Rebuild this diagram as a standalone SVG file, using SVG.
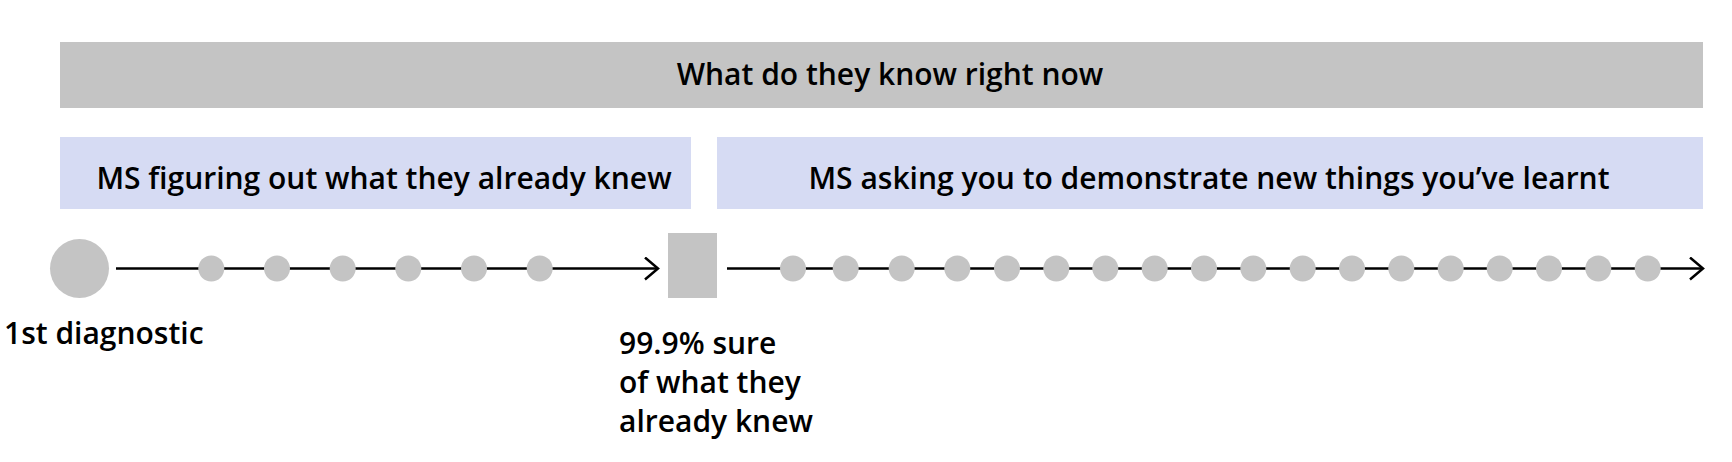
<svg xmlns="http://www.w3.org/2000/svg" width="1732" height="462" viewBox="0 0 1732 462">
<defs>
<style>
.t{font-family:"Open Sans",Lato,"Liberation Sans",sans-serif;font-size:30px;font-weight:600;fill:#000}
.bar{fill:#c4c4c4}
.box{fill:#d6dbf3}
.dot{fill:#c4c4c4}
.ln{stroke:#000;stroke-width:2.5;fill:none}
</style>
<marker id="ah" viewBox="0 0 16 24" refX="14" refY="12" markerWidth="16" markerHeight="24" markerUnits="userSpaceOnUse" orient="auto">
<path d="M1,1 L14,12 L1,23" fill="none" stroke="#000" stroke-width="2.5"/>
</marker>
</defs>
<rect width="1732" height="462" fill="#fff"/>
<g id="header">
<rect class="bar" x="60" y="42" width="1643" height="66"/>
<text class="t" x="890" y="85" text-anchor="middle">What do they know right now</text>
</g>
<g id="phase1">
<rect class="box" x="60" y="137" width="631" height="72"/>
<text class="t" x="384" y="189" text-anchor="middle">MS figuring out what they already knew</text>
</g>
<g id="phase2">
<rect class="box" x="717" y="137" width="986" height="72"/>
<text class="t" x="1209" y="189" text-anchor="middle">MS asking you to demonstrate new things you’ve learnt</text>
</g>
<g id="connectors">
<line class="ln" x1="116" y1="268.5" x2="658" y2="268.5" marker-end="url(#ah)"/>
<line class="ln" x1="727" y1="268.5" x2="1703" y2="268.5" marker-end="url(#ah)"/>
</g>
<g id="start">
<circle class="dot" cx="79.5" cy="268.5" r="29.5"/>
<text class="t" x="4" y="344">1st diagnostic</text>
</g>
<g id="steps1">
<circle class="dot" cx="211.3" cy="268.5" r="13"/>
<circle class="dot" cx="277" cy="268.5" r="13"/>
<circle class="dot" cx="342.7" cy="268.5" r="13"/>
<circle class="dot" cx="408.3" cy="268.5" r="13"/>
<circle class="dot" cx="474" cy="268.5" r="13"/>
<circle class="dot" cx="539.7" cy="268.5" r="13"/>
</g>
<g id="checkpoint">
<rect class="bar" x="668" y="233" width="49" height="65"/>
<text class="t" x="619" y="354">99.9% sure</text>
<text class="t" x="619" y="393">of what they</text>
<text class="t" x="619" y="432">already knew</text>
</g>
<g id="steps2">
<circle class="dot" cx="793" cy="268.5" r="13"/>
<circle class="dot" cx="845.7" cy="268.5" r="13"/>
<circle class="dot" cx="901.7" cy="268.5" r="13"/>
<circle class="dot" cx="957.3" cy="268.5" r="13"/>
<circle class="dot" cx="1007" cy="268.5" r="13"/>
<circle class="dot" cx="1056.3" cy="268.5" r="13"/>
<circle class="dot" cx="1105.3" cy="268.5" r="13"/>
<circle class="dot" cx="1154.7" cy="268.5" r="13"/>
<circle class="dot" cx="1204" cy="268.5" r="13"/>
<circle class="dot" cx="1253.3" cy="268.5" r="13"/>
<circle class="dot" cx="1302.7" cy="268.5" r="13"/>
<circle class="dot" cx="1352" cy="268.5" r="13"/>
<circle class="dot" cx="1401.3" cy="268.5" r="13"/>
<circle class="dot" cx="1450.7" cy="268.5" r="13"/>
<circle class="dot" cx="1499.7" cy="268.5" r="13"/>
<circle class="dot" cx="1549" cy="268.5" r="13"/>
<circle class="dot" cx="1598.3" cy="268.5" r="13"/>
<circle class="dot" cx="1647.7" cy="268.5" r="13"/>
</g>
</svg>
